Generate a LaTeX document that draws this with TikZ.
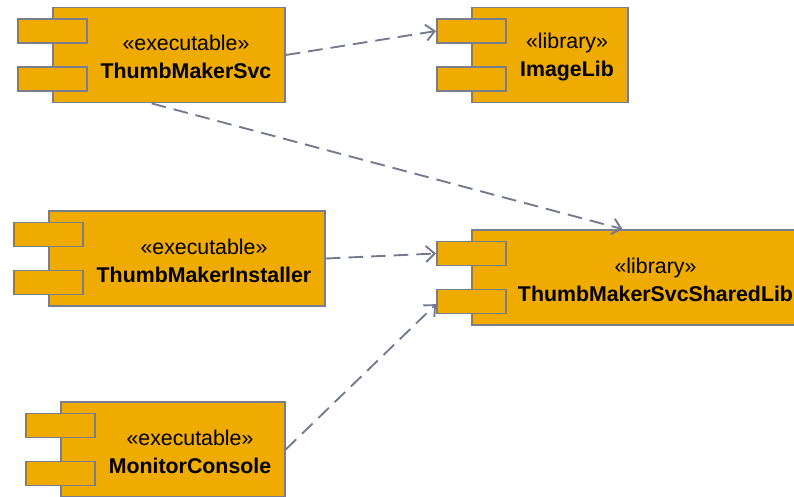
\documentclass[tikz,border=0pt]{standalone}
\usepackage{fontspec}
\setmainfont{Liberation Sans}
\usetikzlibrary{arrows.meta,positioning}

\definecolor{compfill}{RGB}{240,171,0}
\definecolor{compline}{RGB}{122,126,140}
\definecolor{deplink}{RGB}{116,121,142}

\begin{document}
\begin{tikzpicture}[
    x=0.75pt, y=-0.75pt,
    comp/.style={rectangle, draw=compline, fill=compfill, line width=1.1pt, minimum height=71.5pt, inner sep=0pt},
    port/.style={rectangle, draw=compline, fill=compfill, line width=1.1pt, minimum width=51.75pt, minimum height=18pt, inner sep=0pt},
    title/.style={align=center, inner sep=0pt, font=\fontsize{16}{21}\selectfont},
    dep/.style={draw=deplink, line width=1.4pt, dash pattern=on 11pt off 6pt, -{Straight Barb[length=6.5pt,width=12pt]}}
]
\useasboundingbox (0,0) rectangle (794,497);
\clip (0,0) rectangle (794,497);

% ThumbMakerSvc
\node[comp, minimum width=174pt] (svc) at (169,55) {};
\node[port] (svc-p1) at ([yshift=18pt]svc.west) {};
\node[port] (svc-p2) at ([yshift=-18pt]svc.west) {};
\node[title] (svc-txt) at ([xshift=12.75pt,yshift=-1.5pt]svc.center) {«executable»\\\textbf{ThumbMakerSvc}};

% ImageLib
\node[comp, minimum width=117pt] (img) at (550,55) {};
\node[port] (img-p1) at ([yshift=18pt]img.west) {};
\node[port] (img-p2) at ([yshift=-18pt]img.west) {};
\node[title] (img-txt) at ([xshift=12.75pt,yshift=-1.5pt]img.center) {«library»\\\textbf{ImageLib}};

% ThumbMakerInstaller
\node[comp, minimum width=207pt] (inst) at (187,258.5) {};
\node[port] (inst-p1) at ([yshift=18pt]inst.west) {};
\node[port] (inst-p2) at ([yshift=-18pt]inst.west) {};
\node[title] (inst-txt) at ([xshift=12.75pt,yshift=-1.5pt]inst.center) {«executable»\\\textbf{ThumbMakerInstaller}};

% ThumbMakerSvcSharedLib
\node[comp, minimum width=249.75pt] (shared) at (638.5,277.5) {};
\node[port] (shared-p1) at ([yshift=18pt]shared.west) {};
\node[port] (shared-p2) at ([yshift=-18pt]shared.west) {};
\node[title] (shared-txt) at ([xshift=12.75pt,yshift=-1.5pt]shared.center) {«library»\\\textbf{ThumbMakerSvcSharedLib}};

% MonitorConsole
\node[comp, minimum width=168pt] (mon) at (173,449.5) {};
\node[port] (mon-p1) at ([yshift=18pt]mon.west) {};
\node[port] (mon-p2) at ([yshift=-18pt]mon.west) {};
\node[title] (mon-txt) at ([xshift=12.75pt,yshift=-1.5pt]mon.center) {«executable»\\\textbf{MonitorConsole}};

% Dependencies
\draw[dep] (svc.east) -- (img-p1.west);
\draw[dep] ([xshift=-13pt]svc.south) -- ([xshift=-12pt]shared.north);
\draw[dep] (inst.east) -- (shared-p1.west);
\draw[dep] (mon.east) -- ([yshift=-2pt]shared-p2.west);

\end{tikzpicture}
\end{document}
